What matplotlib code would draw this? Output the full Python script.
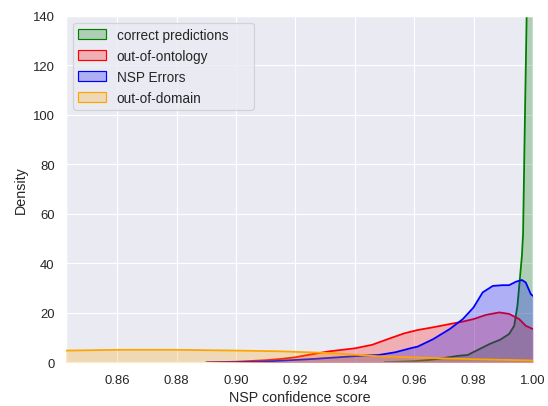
import matplotlib
matplotlib.use("Agg")
import matplotlib.pyplot as plt
from matplotlib.colors import to_rgba
from matplotlib.patches import Patch
import seaborn as sns

# density curves (x = confidence, y = density)
correct_x = [0.95, 0.96, 0.965, 0.97, 0.975, 0.978, 0.981, 0.9855, 0.989, 0.992, 0.9937,
             0.9948, 0.9956, 0.9963, 0.9967, 0.9972, 0.9979, 0.9985, 1.00]
correct_y = [0.1, 0.5, 1.0, 1.8, 2.7, 3.0, 4.8, 7.5, 9.2, 11.5, 14.8,
             22.9, 33.6, 43.0, 52.0, 90.0, 140.0, 190.0, 300.0]

ontology_x = [0.89, 0.90, 0.91, 0.915, 0.92, 0.926, 0.9315, 0.94, 0.9458, 0.9513, 0.9568,
              0.9612, 0.9664, 0.972, 0.9764, 0.98, 0.9842, 0.9887, 0.992, 0.9954, 0.9976, 1.00]
ontology_y = [0.0, 0.3, 0.9, 1.4, 2.1, 3.4, 4.5, 5.7, 7.1, 9.5, 11.8,
              13.1, 14.2, 15.5, 16.5, 17.5, 19.2, 20.2, 19.6, 17.5, 14.8, 13.5]

nsp_x = [0.89, 0.90, 0.91, 0.915, 0.926, 0.937, 0.9437, 0.948, 0.9536, 0.959, 0.9612,
         0.9664, 0.972, 0.9764, 0.98, 0.9831, 0.9865, 0.9898, 0.992, 0.9943, 0.9963,
         0.9976, 0.9993, 1.00]
nsp_y = [0.0, 0.1, 0.4, 0.7, 1.4, 2.3, 2.8, 3.0, 4.1, 5.8, 6.4,
         9.4, 13.5, 17.5, 22.2, 28.3, 30.9, 31.2, 31.2, 32.6, 33.3,
         32.3, 27.6, 26.9]

domain_x = [0.83, 0.8433, 0.86, 0.88, 0.90, 0.915, 0.9315, 0.948, 0.9612, 0.98, 1.00]
domain_y = [4.7, 4.8, 5.1, 5.1, 4.8, 4.5, 3.8, 2.5, 2.0, 1.3, 0.8]

series = [
    ("correct predictions", correct_x, correct_y, "green"),
    ("out-of-ontology", ontology_x, ontology_y, "red"),
    ("NSP Errors", nsp_x, nsp_y, "blue"),
    ("out-of-domain", domain_x, domain_y, "orange"),
]

sns.set_theme(style="darkgrid")
plt.rcParams["font.family"] = ["Liberation Sans", "DejaVu Sans"]

fig = plt.figure(figsize=(6.4, 4.753), dpi=85.625)
ax = fig.add_axes([0.1204, 0.107, 0.852, 0.852])

# each series drawn on its own layer, like seaborn's kdeplot(fill=True)
for i, (label, xs, ys, c) in enumerate(series):
    ax.fill_between(xs, ys, 0, color=c, alpha=0.25, linewidth=0, zorder=1 + 2 * i)
    ax.plot(xs, ys, color=c, linewidth=1.5, zorder=2 + 2 * i)

handles = [Patch(facecolor=to_rgba(c, 0.25), edgecolor=c, label=l)
           for l, _, _, c in series]

ax.set_xlim(0.8427, 1.0)
ax.set_ylim(0, 140)
ax.set_xticks([0.86, 0.88, 0.90, 0.92, 0.94, 0.96, 0.98, 1.00])
ax.set_xlabel("NSP confidence score")
ax.set_ylabel("Density")
leg = ax.legend(handles=handles, loc="upper left", fontsize=11.5,
                bbox_to_anchor=(0, 0, 0.417, 1), mode="expand")
leg.set_zorder(20)

fig.savefig("out.png", dpi=85.625)
